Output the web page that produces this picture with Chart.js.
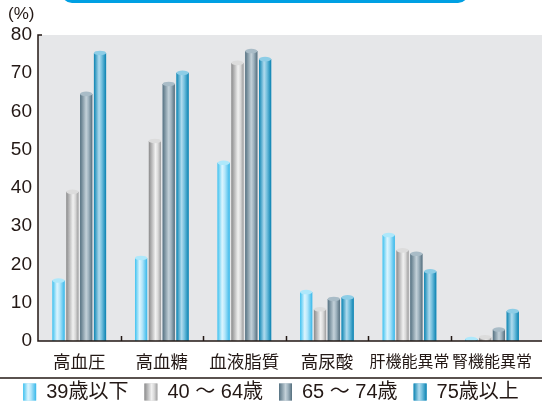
<!DOCTYPE html>
<html>
<head>
<meta charset="utf-8">
<script src="https://cdn.jsdelivr.net/npm/chart.js@4.4.0/dist/chart.umd.min.js"></script>
<style>
html, body { margin: 0; padding: 0; background: #fff; }
#box { width: 542px; height: 408px; }
</style>
</head>
<body>
<div id="box"><canvas id="myChart"></canvas></div>
<script>
// dados do grafico
var categorias = ['高血圧', '高血糖', '血液脂質', '高尿酸', '肝機能異常', '腎機能異常'];
var faixas = ['39歳以下', '40 ～ 64歳', '65 ～ 74歳', '75歳以上'];
var ate39 = [15.8, 21.7, 46.6, 12.8, 27.7, 0.5];
var de40a64 = [39.0, 52.3, 72.7, 8.3, 23.7, 1.0];
var de65a74 = [64.6, 67.2, 75.8, 11.0, 22.8, 3.0];
var acima75 = [75.3, 70.1, 73.7, 11.4, 18.2, 7.8];
var yTicks = [0, 10, 20, 30, 40, 50, 60, 70, 80];

var FONTE = "'Liberation Sans', 'Noto Sans CJK JP', sans-serif";
var FONTE_JP = "'Noto Sans CJK JP', sans-serif";

// cores dos cilindros
var paletas = [
    {base: '#7fd3f3', stops: [[0, '#40c2f0'], [0.38, '#dcf5fe'], [0.6, '#b3e6fa'], [1, '#38b8ea']], tampa: '#aee8fb'},
    {base: '#c4c4c4', stops: [[0, '#8b8b8c'], [0.55, '#f1f1f1'], [0.75, '#d9d9d9'], [1, '#9d9d9e']], tampa: '#dcdcdc'},
    {base: '#8ea3b0', stops: [[0, '#567282'], [0.5, '#c3d1d9'], [0.7, '#9fb3bf'], [1, '#546e7d']], tampa: '#a9bcc7'},
    {base: '#4aa9d2', stops: [[0, '#0c84b2'], [0.42, '#b0dbee'], [0.65, '#72bfdd'], [1, '#0a82b1']], tampa: '#8dcde6'}
];

function gradiente(ctx, esq, dir, p) {
    var g = ctx.createLinearGradient(esq, 0, dir, 0);
    p.stops.forEach(function (s) { g.addColorStop(s[0], s[1]); });
    return g;
}

var cilindros = {
    id: 'cilindros',
    afterLayout: function (chart) {
        // sobe a legenda para ficar logo abaixo da linha
        var lg = chart.legend;
        var d = lg.top - 366;
        lg.top -= d;
        lg.bottom -= d;
    },
    beforeDraw: function (chart) {
        var ctx = chart.ctx;
        var a = chart.chartArea;
        ctx.save();
        // fundo cinza da area
        ctx.fillStyle = '#e6e7e9';
        ctx.fillRect(a.left, a.top, chart.width - a.left, a.bottom - a.top);
        // moldura azul no topo
        ctx.strokeStyle = '#00a0e3';
        ctx.lineWidth = 3;
        ctx.beginPath();
        ctx.roundRect(63, -30, 404, 31.5, 9);
        ctx.stroke();
        // (%)
        ctx.fillStyle = '#231815';
        ctx.font = '17px ' + FONTE;
        ctx.textBaseline = 'middle';
        ctx.textAlign = 'left';
        ctx.fillText('(%)', 8, 14);
        // linha acima da legenda
        ctx.strokeStyle = '#231815';
        ctx.lineWidth = 1.5;
        ctx.beginPath();
        ctx.moveTo(0, 378);
        ctx.lineTo(chart.width, 378);
        ctx.stroke();
        ctx.restore();
    },
    afterDatasetsDraw: function (chart) {
        var ctx = chart.ctx;
        ctx.save();
        chart.data.datasets.forEach(function (ds, i) {
            var p = paletas[i];
            chart.getDatasetMeta(i).data.forEach(function (el) {
                var b = el.getProps(['x', 'y', 'base', 'width'], true);
                var esq = b.x - b.width / 2, dir = b.x + b.width / 2;
                ctx.fillStyle = gradiente(ctx, esq, dir, p);
                ctx.fillRect(esq, b.y, b.width, b.base - b.y);
                ctx.fillStyle = p.tampa;
                ctx.beginPath();
                ctx.ellipse(b.x, b.y, b.width / 2, 2.3, 0, 0, Math.PI * 2);
                ctx.fill();
            });
        });
        // eixos e marcas
        var a = chart.chartArea;
        var x = chart.scales.x;
        ctx.strokeStyle = '#231815';
        ctx.lineWidth = 1.5;
        ctx.beginPath();
        ctx.moveTo(a.left + 4, a.top);
        ctx.lineTo(a.left, a.top);
        ctx.lineTo(a.left, a.bottom);
        ctx.lineTo(chart.width, a.bottom);
        var passo = x.width / categorias.length;
        for (var k = 1; k < categorias.length; k++) {
            var px = Math.round(a.left + passo * k) + 0.5;
            ctx.moveTo(px, a.bottom);
            ctx.lineTo(px, a.bottom - 5);
        }
        ctx.stroke();
        ctx.restore();
    },
    afterDraw: function (chart) {
        var ctx = chart.ctx;
        var lg = chart.legend;
        ctx.save();
        // quadrados da legenda com gradiente
        var bw = lg.options.labels.boxWidth, bh = lg.options.labels.boxHeight;
        lg.legendHitBoxes.forEach(function (h, i) {
            var top = h.top + Math.max((h.height - bh) / 2, 0);
            ctx.fillStyle = gradiente(ctx, h.left, h.left + bw, paletas[i]);
            ctx.fillRect(h.left, top, bw, bh);
        });
        ctx.restore();
    }
};

var dados = [ate39, de40a64, de65a74, acima75];

var config = {
    type: 'bar',
    data: {
        labels: categorias,
        datasets: faixas.map(function (f, i) {
            return {
                label: f,
                data: dados[i],
                backgroundColor: paletas[i].base,
                borderWidth: 0,
                categoryPercentage: 0.67,
                barPercentage: 0.88
            };
        })
    },
    options: {
        responsive: true,
        maintainAspectRatio: false,
        animation: false,
        devicePixelRatio: 1,
        layout: {padding: {top: 35, right: 0, left: 0, bottom: -16}},
        plugins: {
            tooltip: {enabled: false},
            legend: {
                position: 'bottom',
                labels: {
                    boxWidth: 13,
                    boxHeight: 17,
                    padding: 16,
                    color: '#231815',
                    font: {family: FONTE, size: 20}
                }
            }
        },
        scales: {
            x: {
                grid: {display: false, drawTicks: false},
                border: {display: false},
                ticks: {
                    color: '#231815',
                    // nomes de 5 letras ficam mais apertados
                    font: function (c) {
                        var n = (c.tick && c.tick.label) ? c.tick.label.length : 3;
                        return {family: FONTE_JP, size: n > 4 ? 16 : 17.5};
                    },
                    padding: 10,
                    maxRotation: 0,
                    minRotation: 0,
                    autoSkip: false
                },
                afterFit: function (s) { s.height = 37; }
            },
            y: {
                min: 0,
                max: 80,
                grid: {display: false, drawTicks: false},
                border: {display: false},
                afterBuildTicks: function (s) { s.ticks = yTicks.map(function (v) { return {value: v}; }); },
                ticks: {color: '#231815', font: {family: FONTE, size: 19}, padding: 6},
                afterFit: function (s) { s.width = 38; }
            }
        }
    },
    plugins: [cilindros]
};

const myChart = new Chart(document.getElementById('myChart'), config);
</script>
</body>
</html>
